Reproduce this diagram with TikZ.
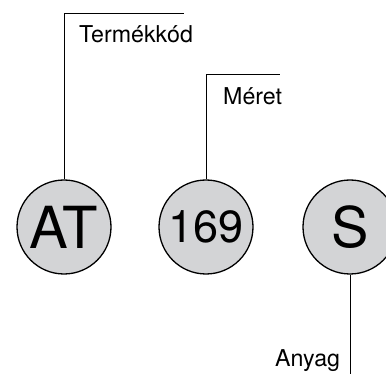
\documentclass[tikz,border=0pt]{standalone}
\usepackage{fontspec}
\setmainfont{TeX Gyre Heros}
\definecolor{discfill}{HTML}{D3D4D6}
\begin{document}
\begin{tikzpicture}[x=1pt,y=-1pt,
  disc/.style={circle,draw=black,line width=1.3pt,fill=discfill,minimum size=94pt,inner sep=0pt},
  lbl/.style={anchor=base west,inner sep=0pt,font=\fontsize{23.2}{27}\selectfont},
  lead/.style={draw=black,line width=1pt}]
\useasboundingbox (0,0) rectangle (386,374);
\node[disc,font=\fontsize{58}{62}\selectfont] (at) at (64,227) {AT};
\node[disc,font=\fontsize{45}{50}\selectfont] (n169) at (206,227) {169};
\node[disc,font=\fontsize{56}{60}\selectfont] (s) at (350,227) {S};
\coordinate (c1) at (64,13.3);
\coordinate (c1e) at (184,13.3);
\coordinate (c2) at (206,75);
\coordinate (c2e) at (280,75);
\coordinate (c3) at (350,374);
\node[lbl] (t1) at (79,43) {Termékkód};
\node[lbl] (t2) at (223,105) {Méret};
\node[lbl] (t3) at (275,366.5) {Anyag};
\draw[lead] (at.north) -- (c1) -- (c1e);
\draw[lead] (n169.north) -- (c2) -- (c2e);
\draw[lead] (s.south) -- (c3);
\end{tikzpicture}
\end{document}
